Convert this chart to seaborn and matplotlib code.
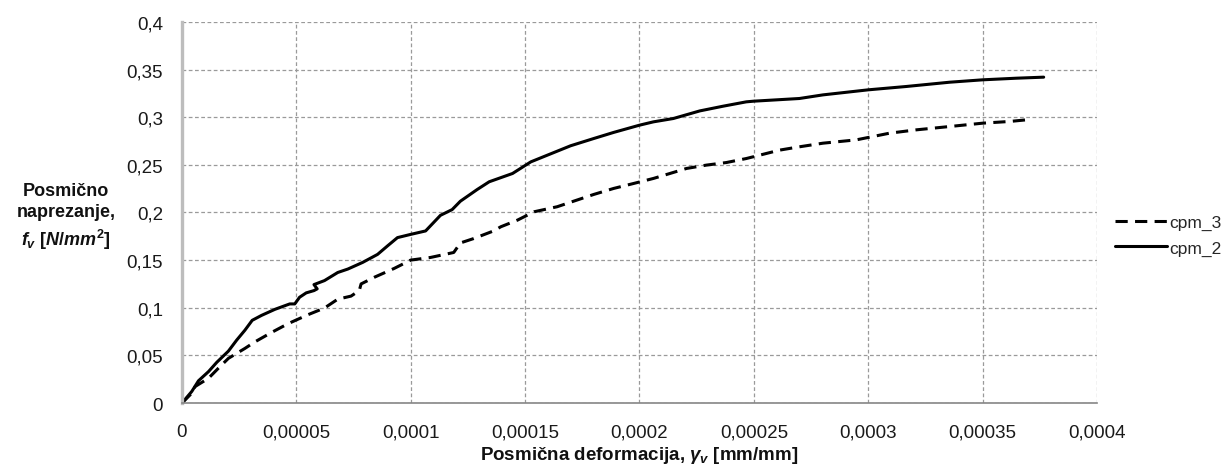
import matplotlib
matplotlib.use("Agg")
import matplotlib.pyplot as plt
import seaborn as sns
import pandas as pd

# ---- data ----
cpm3_x = [0, 0.0000036, 0.0000058, 0.0000116, 0.0000159, 0.0000203, 0.0000275, 0.0000319,
          0.0000391, 0.0000464, 0.0000551, 0.0000623, 0.0000681, 0.0000739, 0.0000775,
          0.0000783, 0.0000841, 0.0000928, 0.0001, 0.0001087, 0.0001188, 0.0001217,
          0.0001275, 0.0001362, 0.0001394, 0.0001467, 0.0001539, 0.000164, 0.0001713,
          0.00018, 0.0001887, 0.0001974, 0.0002061, 0.0002133, 0.0002206, 0.0002293,
          0.000238, 0.0002467, 0.0002525, 0.0002612, 0.0002699, 0.0002802, 0.0002948,
          0.0003, 0.0003093, 0.000321, 0.0003356, 0.00035, 0.0003618, 0.0003691]
cpm3_y = [0, 0.0087, 0.0174, 0.026, 0.0365, 0.0469, 0.0573, 0.0642, 0.074, 0.0833, 0.0927,
          0.0997, 0.109, 0.1122, 0.118, 0.125, 0.132, 0.1413, 0.15, 0.1528, 0.158, 0.168,
          0.1726, 0.1806, 0.185, 0.192, 0.2007, 0.206, 0.2119, 0.2189, 0.2252, 0.2304,
          0.2357, 0.2409, 0.2462, 0.2497, 0.2524, 0.2566, 0.2601, 0.2654, 0.2689, 0.2727,
          0.2762, 0.2787, 0.2832, 0.2867, 0.2902, 0.2937, 0.2955, 0.2972]

cpm2_x = [0, 0.0000043, 0.0000072, 0.0000116, 0.0000152, 0.0000203, 0.0000239, 0.0000275,
          0.0000307, 0.0000348, 0.0000406, 0.0000471, 0.0000493, 0.0000514, 0.0000543,
          0.0000577, 0.0000591, 0.0000577, 0.0000623, 0.0000681, 0.0000725, 0.000079,
          0.0000855, 0.0000899, 0.0000942, 0.0001, 0.0001065, 0.000113, 0.0001181,
          0.0001217, 0.000129, 0.0001343, 0.0001445, 0.0001525, 0.0001597, 0.0001699,
          0.00018, 0.0001887, 0.0002, 0.0002061, 0.0002148, 0.0002264, 0.0002365,
          0.0002467, 0.00025, 0.0002699, 0.0002802, 0.0003, 0.0003166, 0.0003356,
          0.00035, 0.0003647, 0.0003767]
cpm2_y = [0, 0.0122, 0.0233, 0.033, 0.0427, 0.0545, 0.066, 0.0764, 0.0868, 0.092, 0.0983,
          0.104, 0.104, 0.111, 0.1156, 0.118, 0.1198, 0.1243, 0.1285, 0.137, 0.1406,
          0.1476, 0.156, 0.165, 0.1736, 0.177, 0.1806, 0.197, 0.203, 0.2118, 0.224,
          0.2322, 0.2409, 0.2531, 0.2601, 0.27, 0.2776, 0.284, 0.2916, 0.2951, 0.2986,
          0.3066, 0.3115, 0.3161, 0.3168, 0.3196, 0.3234, 0.3287, 0.3322, 0.3367,
          0.3392, 0.3409, 0.342]

series_names = ["cpm_3", "cpm_2"]
x_ticks = [0, 0.00005, 0.0001, 0.00015, 0.0002, 0.00025, 0.0003, 0.00035, 0.0004]
x_tick_labels = ["0", "0,00005", "0,0001", "0,00015", "0,0002", "0,00025", "0,0003", "0,00035", "0,0004"]
y_ticks = [0, 0.05, 0.1, 0.15, 0.2, 0.25, 0.3, 0.35, 0.4]
y_tick_labels = ["0", "0,05", "0,1", "0,15", "0,2", "0,25", "0,3", "0,35", "0,4"]

df = pd.concat([
    pd.DataFrame({"x": cpm3_x, "y": cpm3_y, "serija": series_names[0]}),
    pd.DataFrame({"x": cpm2_x, "y": cpm2_y, "serija": series_names[1]}),
], ignore_index=True)

sns.set_theme(style="white")
FONT = "Liberation Sans"
plt.rcParams["font.family"] = [FONT, "DejaVu Sans"]
plt.rcParams["mathtext.fontset"] = "custom"
plt.rcParams["mathtext.rm"] = "Liberation Sans:bold"
plt.rcParams["mathtext.it"] = "Liberation Sans:bold:italic"
plt.rcParams["mathtext.bf"] = "Liberation Sans:bold"

fig = plt.figure(figsize=(12.28, 4.77), dpi=100)
ax = fig.add_axes([0.1482, 0.153, 0.7451, 0.799])

sns.lineplot(data=df, x="x", y="y", hue="serija", style="serija",
             hue_order=series_names, style_order=series_names,
             palette={"cpm_3": "black", "cpm_2": "black"},
             dashes={"cpm_3": (4.0, 2.4), "cpm_2": ""},
             sort=False, estimator=None, units="serija", linewidth=2.2, ax=ax, legend=False)

ax.set_xlim(0, 0.0004)
ax.set_ylim(0, 0.4)
ax.set_xticks(x_ticks)
ax.set_xticklabels(x_tick_labels, fontsize=13.5, color="#1a1a1a")
ax.set_yticks(y_ticks)
ax.set_yticklabels(y_tick_labels, fontsize=13.5, color="#1a1a1a")
ax.tick_params(axis="y", direction="out", length=6.5, width=1, color="#8c8c8c", pad=7)
ax.tick_params(axis="x", direction="out", length=5.5, width=1, color="#8c8c8c", pad=9)

ax.grid(True, color="#9a9a9a", linestyle=(0, (3, 2)), linewidth=0.9)
for s in ["top", "right"]:
    ax.spines[s].set_visible(False)
ax.spines["left"].set_color("#bdbdbd")
ax.spines["left"].set_linewidth(2.4)
ax.spines["bottom"].set_color("#868686")
ax.spines["bottom"].set_linewidth(1.2)

ax.set_xlabel(r"Posmična deformacija, $\mathit{\gamma_v}$ [mm/mm]", fontsize=13.5,
              fontweight="bold", labelpad=3, color="#111111")
ax.set_ylabel("")
fig.text(0.054, 0.545, "Posmično\nnaprezanje,\n" + r"$\mathit{f_v}$ [$\mathit{N/mm^2}$]",
         ha="center", va="center", fontsize=13, fontweight="bold",
         linespacing=1.35, color="#111111")

handles = ax.get_lines()[:2]
leg = fig.legend(handles, series_names, loc="center left", bbox_to_anchor=(0.908, 0.505),
                 frameon=False, handlelength=3.0, handletextpad=0.15, labelspacing=0.6,
                 borderaxespad=0, borderpad=0, prop={"size": 12.5})

fig.savefig("out.png", dpi=100)
